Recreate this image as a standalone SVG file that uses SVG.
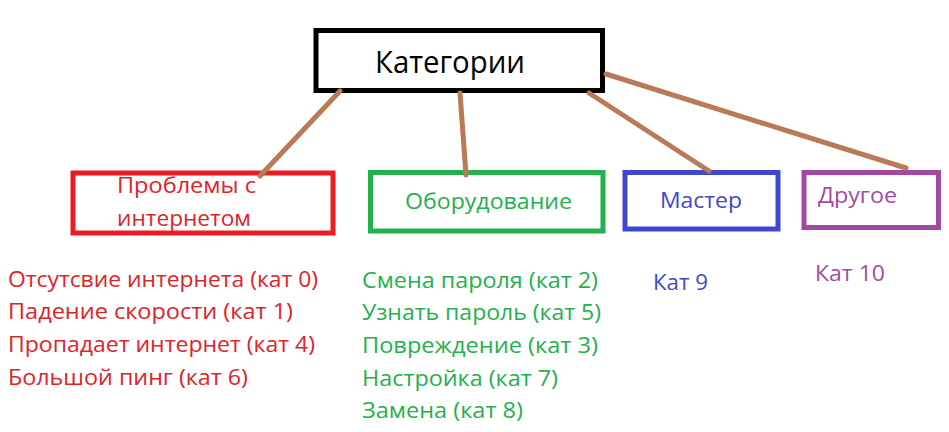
<svg xmlns="http://www.w3.org/2000/svg" width="949" height="432" viewBox="0 0 949 432">
<style>
text{font-family:"Open Sans","Noto Sans","DejaVu Sans",sans-serif;}
.box{fill:#fff;stroke-width:5;}
.conn{stroke:#b97a57;stroke-width:5;stroke-linecap:round;fill:none;}
.red{fill:#e0222a;} .green{fill:#22b14c;} .blue{fill:#3f48cc;} .purple{fill:#a349a4;}
.item{font-size:21.5px;}
</style>
<rect width="949" height="432" fill="#fff"/>
<g id="node-root">
<rect class="box" x="316" y="30.5" width="286.5" height="60" stroke="#000"/>
<text x="375" y="73" font-size="31" fill="#000" textLength="150" lengthAdjust="spacingAndGlyphs">Категории</text>
</g>
<g id="node-internet">
<rect class="box" x="73" y="173" width="260" height="60" stroke="#ed1c24"/>
<text class="red" x="117" y="193" font-size="21.5" textLength="139" lengthAdjust="spacingAndGlyphs">Проблемы с</text>
<text class="red" x="117" y="226" font-size="21.5" textLength="134" lengthAdjust="spacingAndGlyphs">интернетом</text>
</g>
<g id="node-equipment">
<rect class="box" x="370.5" y="172.5" width="232.5" height="58.5" stroke="#22b14c"/>
<text class="green" x="405" y="209" font-size="22.5" textLength="167" lengthAdjust="spacingAndGlyphs">Оборудование</text>
</g>
<g id="node-master">
<rect class="box" x="625" y="172.5" width="153" height="56.5" stroke="#3f48cc"/>
<text class="blue" x="660" y="208" font-size="22.5" textLength="82" lengthAdjust="spacingAndGlyphs">Мастер</text>
</g>
<g id="node-other">
<rect class="box" x="804" y="172.5" width="134.5" height="55" stroke="#a349a4"/>
<text class="purple" x="818" y="203" font-size="22.5" textLength="79" lengthAdjust="spacingAndGlyphs">Другое</text>
</g>
<g id="connectors">
<line class="conn" x1="340" y1="91" x2="260" y2="176"/>
<line class="conn" x1="460" y1="93" x2="466" y2="175"/>
<line class="conn" x1="589" y1="93" x2="709" y2="171"/>
<line class="conn" x1="606" y1="74" x2="906" y2="168"/>
</g>
<g id="list-internet" class="red item">
<text x="8" y="287" textLength="310" lengthAdjust="spacingAndGlyphs">Отсутсвие интернета (кат 0)</text>
<text x="8" y="319" textLength="285" lengthAdjust="spacingAndGlyphs">Падение скорости (кат 1)</text>
<text x="8" y="352" textLength="307" lengthAdjust="spacingAndGlyphs">Пропадает интернет (кат 4)</text>
<text x="8" y="385" textLength="240" lengthAdjust="spacingAndGlyphs">Большой пинг (кат 6)</text>
</g>
<g id="list-equipment" class="green item">
<text x="362" y="288" textLength="236" lengthAdjust="spacingAndGlyphs">Смена пароля (кат 2)</text>
<text x="362" y="320" textLength="239" lengthAdjust="spacingAndGlyphs">Узнать пароль (кат 5)</text>
<text x="362" y="353" textLength="236" lengthAdjust="spacingAndGlyphs">Повреждение (кат 3)</text>
<text x="362" y="386" textLength="196" lengthAdjust="spacingAndGlyphs">Настройка (кат 7)</text>
<text x="362" y="418" textLength="161" lengthAdjust="spacingAndGlyphs">Замена (кат 8)</text>
</g>
<g id="list-master" class="blue item">
<text x="653" y="290" textLength="55" lengthAdjust="spacingAndGlyphs">Кат 9</text>
</g>
<g id="list-other" class="purple item">
<text x="815" y="281" textLength="70" lengthAdjust="spacingAndGlyphs">Кат 10</text>
</g>
</svg>
